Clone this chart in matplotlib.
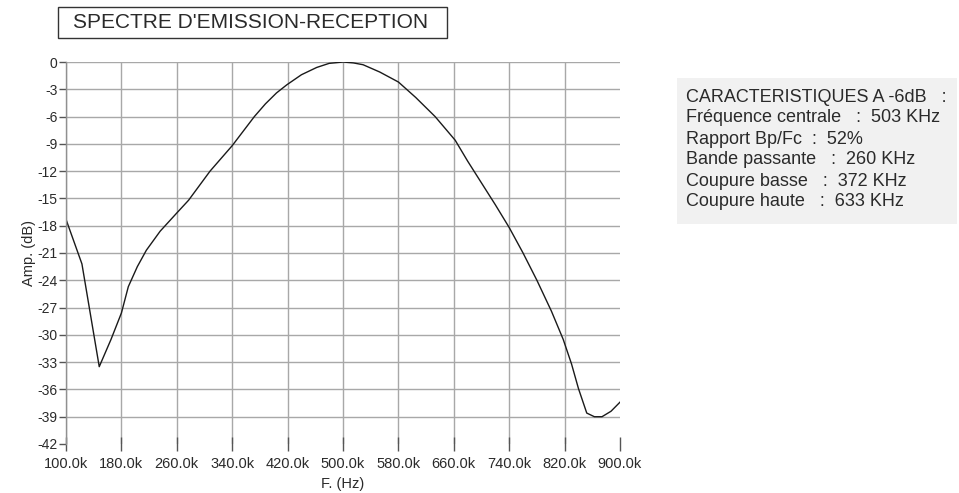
import matplotlib.pyplot as plt
from matplotlib.patches import Rectangle
from matplotlib.ticker import FixedLocator

# measured emission/reception spectrum (frequency in kHz, amplitude in dB)
freq_khz = [100, 123, 148, 165, 180, 190, 203, 216, 236, 260, 277, 308,
            340, 356, 372, 388, 404, 419, 440, 462, 480, 500, 515, 529,
            553, 580, 605, 633, 662, 680, 700, 720, 740, 760, 780, 801,
            818, 830, 840, 852, 863, 874, 887, 900]
amp_db = [-17.3, -22.2, -33.5, -30.5, -27.6, -24.7, -22.5, -20.7, -18.6,
          -16.6, -15.2, -12.0, -9.2, -7.6, -6.0, -4.6, -3.4, -2.5, -1.4,
          -0.6, -0.15, 0.0, -0.1, -0.3, -1.1, -2.2, -3.9, -6.0, -8.6,
          -10.9, -13.3, -15.7, -18.2, -21.0, -24.0, -27.4, -30.5, -33.2,
          -35.9, -38.6, -39.0, -39.0, -38.4, -37.4]

x_ticks = [100, 180, 260, 340, 420, 500, 580, 660, 740, 820, 900]
y_ticks = list(range(0, -45, -3))

title = "SPECTRE D'EMISSION-RECEPTION"
carac_lines = [
    "CARACTERISTIQUES A -6dB   :",
    "Fréquence centrale   :  503 KHz",
    "Rapport Bp/Fc  :  52%",
    "Bande passante   :  260 KHz",
    "Coupure basse   :  372 KHz",
    "Coupure haute   :  633 KHz",
]

plt.rcParams['font.family'] = ['Liberation Sans', 'DejaVu Sans']
txt = '#2a2a2a'
grid_c = '#a8a8a8'

fig = plt.figure(figsize=(9.59, 4.93), dpi=100)
W, H = 959, 493
ax = fig.add_axes([66 / W, 1 - 444 / H, (620 - 66) / W, (444 - 62) / H])

ax.plot(freq_khz, amp_db, color='#1a1a1a', lw=1.0)
ax.set_xlim(100, 900)
ax.set_ylim(-42, 0)

ax.xaxis.set_major_locator(FixedLocator(x_ticks))
ax.yaxis.set_major_locator(FixedLocator(y_ticks))
ax.set_xticklabels(['%.1fk' % v for v in x_ticks])
ax.set_yticklabels([str(v) for v in y_ticks])

ax.grid(True, color=grid_c, lw=1.0)
# no grid line on the right edge nor on the bottom edge
ax.xaxis.get_gridlines()[-1].set_visible(False)
ax.yaxis.get_gridlines()[-1].set_visible(False)

for s in ['top', 'right', 'bottom']:
    ax.spines[s].set_visible(False)
ax.spines['left'].set_color('#909090')
ax.spines['left'].set_linewidth(1.0)

ax.tick_params(axis='y', direction='out', length=5, width=1, color='#555555',
               labelsize=10, labelcolor=txt, pad=1)
ax.tick_params(axis='x', direction='inout', length=10, width=1, color='#555555',
               labelsize=10.5, labelcolor=txt, pad=4)

ax.set_xlabel('F. (Hz)', fontsize=10.5, color=txt, labelpad=5)
ax.set_ylabel('Amp. (dB)', fontsize=10.5, color=txt, labelpad=1)

# title inside a framed box
fig.patches.append(Rectangle((58 / W, 1 - 38 / H), (447 - 58) / W, 31 / H,
                             transform=fig.transFigure, fill=False,
                             edgecolor='#333333', lw=1.0))
fig.text(251 / W, 1 - 23 / H, title, ha='center', va='center',
         fontsize=15, color=txt)

# characteristics panel
fig.patches.append(Rectangle((677 / W, 1 - 224 / H), (957 - 677) / W, 146 / H,
                             transform=fig.transFigure, facecolor='#f1f1f1',
                             edgecolor='none'))
for i, line in enumerate(carac_lines):
    fig.text(686 / W, 1 - (97 + 21 * i) / H, line, ha='left', va='center',
             fontsize=13, color=txt)

fig.savefig('out.png', dpi=100)
